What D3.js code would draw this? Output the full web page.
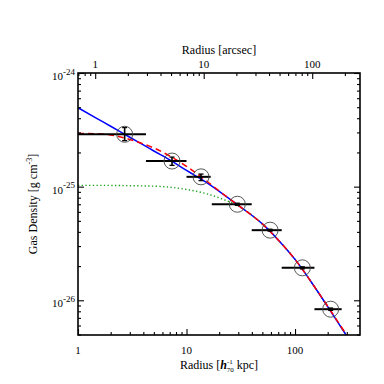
<!DOCTYPE html>
<html><head><meta charset="utf-8">
<script src="https://cdn.jsdelivr.net/npm/d3@7"></script>
<style>
html,body{margin:0;padding:0;background:#fff;}
svg{display:block;}
svg text{font-family:"Liberation Serif","Times New Roman","DejaVu Serif",serif;}
</style></head>
<body><svg id="c" width="384" height="384"></svg>
<script>
// ---- data ----
const kpcPerArcsec = 1.44;
const kpcMajor = [1, 10, 100];
const kpcMinor = [2,3,4,5,6,7,8,9,20,30,40,50,60,70,80,90,200,300];
const arcMajor = [1, 10, 100];
const arcMinor = [0.7,0.8,0.9,2,3,4,5,6,7,8,9,20,30,40,50,60,70,80,90,200];
const densMajor = [1e-24, 1e-25, 1e-26];
const densMajorExp = ["-24", "-25", "-26"];
const densMinor = [5e-27,6e-27,7e-27,8e-27,9e-27,2e-26,3e-26,4e-26,5e-26,6e-26,7e-26,8e-26,9e-26,2e-25,3e-25,4e-25,5e-25,6e-25,7e-25,8e-25,9e-25];

const binR     = [2.69, 7.35, 13.6, 29.4, 58.9, 116.8, 213];
const binLo    = [1.0, 4.23, 10.0, 17.1, 39.9, 75.4, 151];
const binHi    = [4.23, 10.0, 16.7, 39.9, 75.4, 151, 269];
const dens     = [2.89e-25, 1.68e-25, 1.22e-25, 7.0e-26, 4.14e-26, 1.93e-26, 8.35e-27];
const densLo   = [2.54e-25, 1.54e-25, 1.13e-25, 6.85e-26, 4.06e-26, 1.89e-26, 8.15e-27];
const densHi   = [3.31e-25, 1.82e-25, 1.29e-25, 7.15e-26, 4.22e-26, 1.97e-26, 8.55e-27];

const curveR     = [1, 1.5, 2, 3, 4, 5, 7, 10, 15, 20, 30, 50, 70, 100, 150, 200, 300];
const cuspModel  = [4.95e-25, 3.97e-25, 3.40e-25, 2.72e-25, 2.33e-25, 2.06e-25, 1.72e-25, 1.39e-25, 1.10e-25, 9.08e-26, 6.84e-26, 4.70e-26, 3.40e-26, 2.29e-26, 1.33e-26, 8.79e-27, 4.84e-27];
const betaModel  = [2.94e-25, 2.92e-25, 2.85e-25, 2.60e-25, 2.38e-25, 2.19e-25, 1.86e-25, 1.51e-25, 1.14e-25, 9.16e-26, 6.84e-26, 4.70e-26, 3.40e-26, 2.29e-26, 1.33e-26, 8.85e-27, 4.92e-27];
const coreModel  = [1.026e-25, 1.026e-25, 1.025e-25, 1.02e-25, 1.015e-25, 1.01e-25, 9.89e-26, 9.45e-26, 8.71e-26, 7.96e-26, 6.76e-26, 4.70e-26, 3.40e-26, 2.29e-26, 1.33e-26, 8.8e-27, 4.88e-27];

// ---- layout ----
const FONT = "Liberation Serif, Times New Roman, DejaVu Serif, serif";
const L = 78, R = 360, T = 73, B = 335;
const svg = d3.select("#c");
const x = d3.scaleLog().domain([1, 397]).range([L, R]);
const xTop = d3.scaleLog().domain([1/kpcPerArcsec, 397/kpcPerArcsec]).range([L, R]);
const y = d3.scaleLog().domain([4.95e-27, 1e-24]).range([B, T]);

svg.append("defs").append("clipPath").attr("id","clip")
  .append("rect").attr("x",L).attr("y",T).attr("width",R-L).attr("height",B-T);

// curves
const line = (vals) => d3.line().x((d,i)=>x(curveR[i])).y(d=>y(d)).curve(d3.curveMonotoneX)(vals);
const cg = svg.append("g").attr("clip-path","url(#clip)");
cg.append("path").attr("d", line(coreModel)).attr("fill","none")
  .attr("stroke","#1aa01a").attr("stroke-width",1.4).attr("stroke-dasharray","1.3,2.4");
cg.append("path").attr("d", line(cuspModel)).attr("fill","none")
  .attr("stroke","#0000ff").attr("stroke-width",1.5);
cg.append("path").attr("d", line(betaModel)).attr("fill","none")
  .attr("stroke","#ff0000").attr("stroke-width",1.5).attr("stroke-dasharray","6,4");

// data points
const pg = svg.append("g");
binR.forEach((r,i)=>{
  pg.append("line").attr("x1",x(binLo[i])).attr("x2",x(binHi[i]))
    .attr("y1",y(dens[i])).attr("y2",y(dens[i])).attr("stroke","#000").attr("stroke-width",2);
  pg.append("line").attr("x1",x(r)).attr("x2",x(r))
    .attr("y1",y(densLo[i])).attr("y2",y(densHi[i])).attr("stroke","#000").attr("stroke-width",1.6);
  [densLo[i], densHi[i]].forEach(v=>{
    pg.append("line").attr("x1",x(r)-2.5).attr("x2",x(r)+2.5)
      .attr("y1",y(v)).attr("y2",y(v)).attr("stroke","#000").attr("stroke-width",1.3);
  });
  pg.append("circle").attr("cx",x(r)).attr("cy",y(dens[i])).attr("r",8)
    .attr("fill","none").attr("stroke","#444").attr("stroke-width",0.9);
});

// axes (ticks inward)
function addAxis(gen, tx, ty){
  const g = svg.append("g").attr("transform",`translate(${tx},${ty})`).call(gen);
  g.select(".domain").remove();
  g.selectAll("line").attr("stroke","#000").attr("stroke-width",1.1);
  g.selectAll("text").remove();
  return g;
}
addAxis(d3.axisBottom(x).tickValues(kpcMajor).tickSizeInner(-6).tickSizeOuter(0), 0, B);
addAxis(d3.axisBottom(x).tickValues(kpcMinor).tickSizeInner(-3).tickSizeOuter(0), 0, B);
addAxis(d3.axisTop(xTop).tickValues(arcMajor).tickSizeInner(-6).tickSizeOuter(0), 0, T);
addAxis(d3.axisTop(xTop).tickValues(arcMinor).tickSizeInner(-3).tickSizeOuter(0), 0, T);
addAxis(d3.axisLeft(y).tickValues(densMajor).tickSizeInner(-6).tickSizeOuter(0), L, 0);
addAxis(d3.axisLeft(y).tickValues(densMinor).tickSizeInner(-3).tickSizeOuter(0), L, 0);
addAxis(d3.axisRight(y).tickValues(densMajor).tickSizeInner(-6).tickSizeOuter(0), R, 0);
addAxis(d3.axisRight(y).tickValues(densMinor).tickSizeInner(-3).tickSizeOuter(0), R, 0);

svg.append("rect").attr("x",L).attr("y",T).attr("width",R-L).attr("height",B-T)
  .attr("fill","none").attr("stroke","#000").attr("stroke-width",1.6);

const tg = svg.append("g").attr("font-family", FONT).attr("fill","#000");
// tick labels
kpcMajor.forEach(v=>{
  tg.append("text").attr("x",x(v)).attr("y",353.5).attr("text-anchor","middle")
    .attr("font-size",11).text(v);
});
arcMajor.forEach(v=>{
  tg.append("text").attr("x",xTop(v)).attr("y",67.5).attr("text-anchor","middle")
    .attr("font-size",11).text(v);
});
densMajor.forEach((v,i)=>{
  const t = tg.append("text").attr("x",75).attr("y",y(v)+7).attr("text-anchor","end")
    .attr("font-size",11);
  t.append("tspan").text("10");
  t.append("tspan").attr("dy",-5.5).attr("font-size",9).text(densMajorExp[i]);
});

// titles
tg.append("text").attr("x",219).attr("y",54).attr("text-anchor","middle")
  .attr("font-size",12).text("Radius [arcsec]");

const bt = tg.append("text").attr("x",219).attr("y",369).attr("text-anchor","middle").attr("font-size",12);
bt.append("tspan").text("Radius [");
bt.append("tspan").attr("font-style","italic").attr("font-weight","bold").text("h");
bt.append("tspan").attr("font-size",7).attr("dy",-5).text("-1");
bt.append("tspan").attr("font-size",7).attr("dx",-6).attr("dy",8).text("70");
bt.append("tspan").attr("dy",-3).text(" kpc]");

const lt = tg.append("text").attr("transform","translate(37,204) rotate(-90)")
  .attr("text-anchor","middle").attr("font-size",12);
lt.append("tspan").text("Gas Density [g cm");
lt.append("tspan").attr("font-size",8).attr("dy",-5).text("-3");
lt.append("tspan").attr("dy",5).text("]");
</script></body></html>
